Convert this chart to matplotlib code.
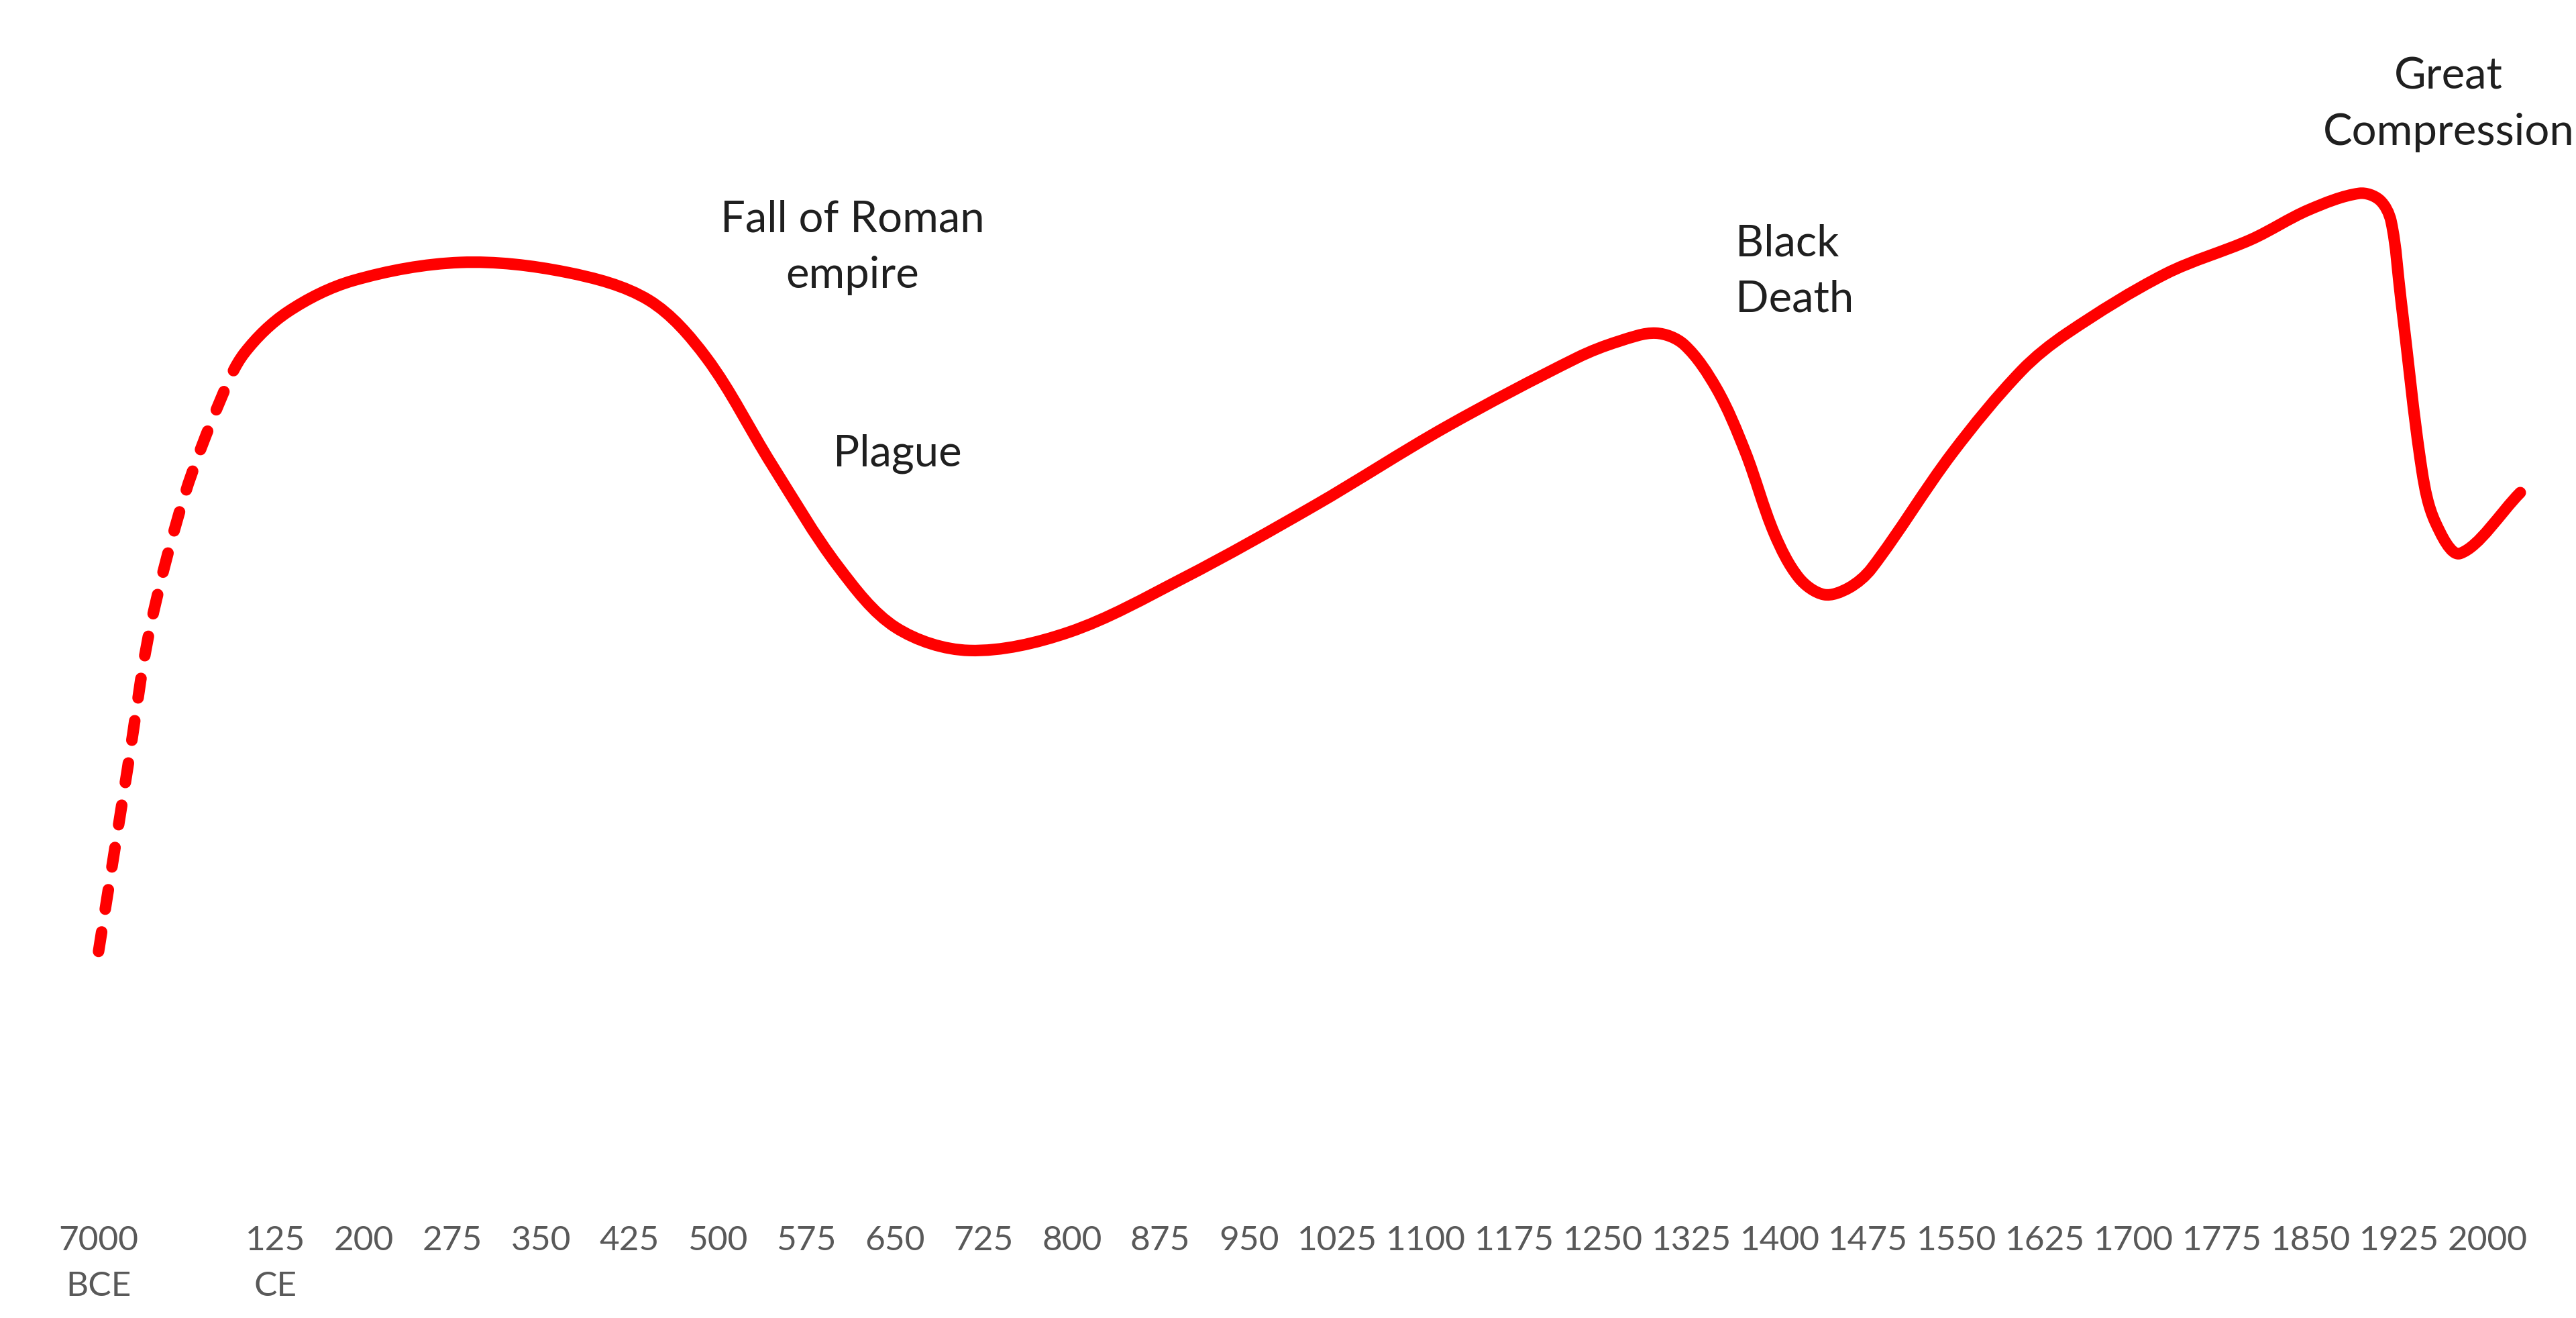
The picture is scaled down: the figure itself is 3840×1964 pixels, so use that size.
import math
import matplotlib
matplotlib.use("Agg")
import matplotlib.pyplot as plt
from matplotlib.path import Path
from matplotlib.patches import PathPatch

# x axis categories (one blank slot between 7000 BCE and 125 CE)
categories = ["7000\nBCE", "", "125\nCE"] + [str(y) for y in range(200, 2001, 75)]

# curve: x in category slots, y in relative level (no y scale shown)
dashed_x = [0.00, 0.33, 0.58, 0.97, 1.39, 1.65]
dashed_y = [8.2, 30.6, 47.4, 63.6, 75.6, 81.0]

solid_x = [1.65, 2.14, 2.88, 4.09, 5.29, 6.22, 6.87, 7.61, 8.36, 9.01, 9.84,
           10.96, 12.26, 13.74, 15.23, 16.71, 17.18, 17.60, 17.92, 18.29, 18.61,
           18.94, 19.22, 19.50, 19.78, 20.04, 20.95, 21.73, 22.25, 23.36, 24.33,
           24.98, 25.55, 25.78, 25.91, 26.02, 26.26, 26.41, 26.69, 27.37]
solid_y = [81.0, 86.0, 89.8, 92.0, 90.8, 87.4, 80.4, 67.4, 55.0, 47.6, 44.8,
           47.0, 53.6, 62.4, 72.0, 80.4, 82.4, 83.4, 82.0, 76.6, 69.0,
           59.0, 53.6, 51.6, 52.4, 54.8, 68.8, 78.8, 83.4, 90.6, 94.8,
           98.4, 100.4, 99.6, 97.0, 87.6, 66.6, 60.4, 56.6, 64.0]

# annotations: text, x slot, level, horizontal alignment
notes = [
    ("Fall of Roman\nempire", 8.52, 93.9, "center"),
    ("Plague", 9.03, 68.8, "center"),
    ("Black\nDeath", 18.50, 91.0, "left"),
    ("Great\nCompression", 26.56, 111.3, "center"),
]

# rough size of one data unit on screen, only used to space the spline tangents
SX, SY = 53.85, 5.0


def smooth_segments(xs, ys):
    # smoothed line: cubic bezier per pair of points, tangents scaled by chord length
    n = len(xs)
    d = [math.hypot((xs[i + 1] - xs[i]) * SX, (ys[i + 1] - ys[i]) * SY) for i in range(n - 1)]
    tx, ty = [], []
    for i in range(n):
        a = max(i - 1, 0)
        b = min(i + 1, n - 1)
        span = sum(d[a:b])
        tx.append((xs[b] - xs[a]) / span)
        ty.append((ys[b] - ys[a]) / span)
    segs = []
    for i in range(n - 1):
        k = d[i] / 3
        p1 = (xs[i], ys[i])
        p2 = (xs[i + 1], ys[i + 1])
        c1 = (xs[i] + tx[i] * k, ys[i] + ty[i] * k)
        c2 = (xs[i + 1] - tx[i + 1] * k, ys[i + 1] - ty[i + 1] * k)
        segs.append((p1, c1, c2, p2))
    return segs


def to_path(segs):
    verts = [segs[0][0]]
    codes = [Path.MOVETO]
    for _, c1, c2, p2 in segs:
        verts += [c1, c2, p2]
        codes += [Path.CURVE4] * 3
    return Path(verts, codes)


plt.rcParams["font.family"] = ["Lato", "DejaVu Sans"]

fig = plt.figure(figsize=(19.2, 9.825), dpi=200)
ax = fig.add_axes([0, 0.0835, 1, 0.9165])

red = "#ff0000"
all_x = dashed_x + solid_x[1:]
all_y = dashed_y + solid_y[1:]
segs = smooth_segments(all_x, all_y)
nd = len(dashed_x) - 1

ax.add_patch(PathPatch(to_path(segs[:nd]), fill=False, edgecolor=red, lw=6.2,
                       linestyle=(0, (1.7, 2.0)), capstyle="round"))
ax.add_patch(PathPatch(to_path(segs[nd:]), fill=False, edgecolor=red, lw=6.2,
                       capstyle="round", joinstyle="round"))

for text, x, y, ha in notes:
    ax.text(x, y, text, ha=ha, va="center", fontsize=23.5, color="#1f1f1f",
            linespacing=1.5, multialignment=ha)

ax.set_xlim(-1.114, 28.0)
ax.set_ylim(-23, 124)
ax.set_xticks(range(len(categories)))
ax.set_xticklabels(categories, fontsize=18.5, color="#595959", linespacing=1.6)
ax.tick_params(axis="x", length=0, pad=9)
ax.set_yticks([])
for s in ax.spines.values():
    s.set_visible(False)

fig.savefig("out.png", dpi=200, facecolor="white")
